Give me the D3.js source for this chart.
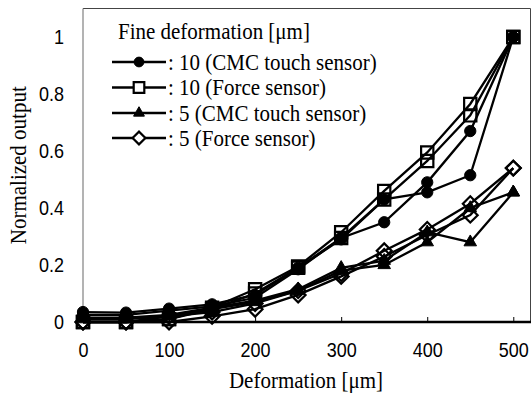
<!DOCTYPE html>
<html><head><meta charset="utf-8">
<script src="https://cdn.jsdelivr.net/npm/d3@7"></script>
<style>body{margin:0;background:#fff}svg{display:block}
svg text:not(.rot){transform-box:fill-box;transform-origin:center;transform:scaleY(1.1)}
</style>
</head><body>
<svg id="c" width="531" height="394"></svg>
<script>
const deformation = [0,50,100,150,200,250,300,350,400,450,500];
const xTicks = [0,100,200,300,400,500];
const yTicks = [0,0.2,0.4,0.6,0.8,1];
const legendTitle = "Fine deformation [\u03bcm]";
const seriesNames = [": 10 (CMC touch sensor)", ": 10 (Force sensor)", ": 5 (CMC touch sensor)", ": 5 (Force sensor)"];
const cmc10_run1 = [0.035,0.033,0.047,0.062,0.095,0.19,0.29,0.43,0.455,0.515,1.0];
const cmc10_run2 = [0.025,0.025,0.04,0.055,0.085,0.185,0.295,0.35,0.49,0.67,1.0];
const force10_run1 = [0.0,0.0,0.01,0.05,0.115,0.195,0.315,0.46,0.595,0.765,1.0];
const force10_run2 = [0.0,0.0,0.01,0.045,0.1,0.19,0.295,0.43,0.565,0.725,1.0];
const cmc5_run1 = [0.015,0.015,0.025,0.05,0.075,0.115,0.19,0.215,0.315,0.28,0.455];
const cmc5_run2 = [0.01,0.01,0.02,0.045,0.07,0.11,0.18,0.2,0.28,0.40,0.455];
const force5_run1 = [0.0,0.0,0.02,0.035,0.065,0.11,0.17,0.25,0.325,0.415,0.54];
const force5_run2 = [0.0,0.0,0.0,0.02,0.045,0.095,0.16,0.23,0.305,0.375,0.54];

const groups = [
  {name: seriesNames[0], runs:[cmc10_run1, cmc10_run2], sym:"circle"},
  {name: seriesNames[1], runs:[force10_run1, force10_run2], sym:"square"},
  {name: seriesNames[2], runs:[cmc5_run1, cmc5_run2], sym:"triangle"},
  {name: seriesNames[3], runs:[force5_run1, force5_run2], sym:"diamond"}
];

const svg = d3.select("#c");
const L=83, R=530.5, T=8.5, B=322;
const x = d3.scaleLinear().domain([0,520]).range([L, R]);
const y = d3.scaleLinear().domain([0,1.1]).range([B, T]);
const serif = "'Liberation Serif','Times New Roman',serif";
const sans = "'Liberation Sans',Arial,sans-serif";

// frame
svg.append("line").attr("x1",L).attr("x2",R).attr("y1",T).attr("y2",T).attr("stroke","#444").attr("stroke-width",1);
svg.append("line").attr("x1",R).attr("x2",R).attr("y1",T).attr("y2",B).attr("stroke","#444").attr("stroke-width",1);
svg.append("line").attr("x1",L).attr("x2",L).attr("y1",T).attr("y2",B).attr("stroke","#808080").attr("stroke-width",1.2);

// x axis
const xAxis = d3.axisBottom(x).tickValues(xTicks).tickSizeInner(-5).tickSizeOuter(0).tickPadding(22).tickFormat(d3.format("d"));
const gx = svg.append("g").attr("transform",`translate(0,${B})`).call(xAxis);
gx.select(".domain").attr("stroke","#000").attr("stroke-width",2.5).attr("d",`M${L},0H${R+0.5}`);
gx.selectAll(".tick line").attr("stroke","#000");
gx.selectAll(".tick text").attr("font-family",sans).attr("font-size",18).attr("fill","#000");

// y axis
const yAxis = d3.axisLeft(y).tickValues(yTicks).tickSize(0).tickPadding(19).tickFormat(d => d===0||d===1 ? String(d) : d3.format(".1f")(d));
const gy = svg.append("g").attr("transform",`translate(${L},0)`).call(yAxis);
gy.select(".domain").remove();
gy.selectAll(".tick text").attr("font-family",sans).attr("font-size",18).attr("fill","#000");

// axis titles
svg.append("text").attr("x",306).attr("y",387).attr("text-anchor","middle").attr("font-family",serif).attr("font-size",21).text("Deformation [\u03bcm]");
svg.append("text").attr("class","rot").attr("transform",`translate(26,${(T+B)/2}) rotate(-90) scale(1,1.1)`).attr("text-anchor","middle").attr("font-family",serif).attr("font-size",21).text("Normalized output");

function symPath(s, legend){
  const k = legend ? 0.75 : 1;
  if(s==="circle") return d3.symbol(d3.symbolCircle, 100*k)();
  if(s==="square") return d3.symbol(d3.symbolSquare, 150*k)();
  if(s==="triangle") return d3.symbol(d3.symbolTriangle, 68*k)();
  return d3.symbol(d3.symbolSquare, 110*k)();
}
function symStyle(sel, s, legend){
  const filled = s==="circle"||s==="triangle";
  sel.attr("d", symPath(s, legend))
     .attr("fill", filled ? "#000" : (legend ? "#fff" : "none"))
     .attr("stroke","#000").attr("stroke-width", filled ? 1 : 2.2);
}

const line = d3.line().x((d,i)=>x(deformation[i])).y(d=>y(d));
const plot = svg.append("g");
groups.forEach(g=>{
  g.runs.forEach(run=>{
    plot.append("path").datum(run).attr("d",line).attr("fill","none").attr("stroke","#000").attr("stroke-width",2.3);
  });
});
groups.forEach(g=>{
  g.runs.forEach(run=>{
    plot.selectAll(null).data(run).enter().append("path")
      .attr("transform",(d,i)=>`translate(${x(deformation[i])},${y(d)})${g.sym==="diamond"?" rotate(45)":""}`)
      .call(sel=>symStyle(sel,g.sym,false));
  });
});

// legend
const lg = svg.append("g");
lg.append("text").attr("x",118).attr("y",38).attr("font-family",serif).attr("font-size",21).text(legendTitle);
const rowY = [62, 87.5, 113, 138];
groups.forEach((g,i)=>{
  const yy = rowY[i];
  lg.append("line").attr("x1",112).attr("x2",166).attr("y1",yy).attr("y2",yy).attr("stroke","#000").attr("stroke-width",2.3);
  lg.append("path").attr("transform",`translate(139,${yy})${g.sym==="diamond"?" rotate(45)":""}`).call(sel=>symStyle(sel,g.sym,true));
  lg.append("text").attr("x",168).attr("y",yy+7).attr("font-family",serif).attr("font-size",21).text(g.name);
});
</script>
</body></html>
